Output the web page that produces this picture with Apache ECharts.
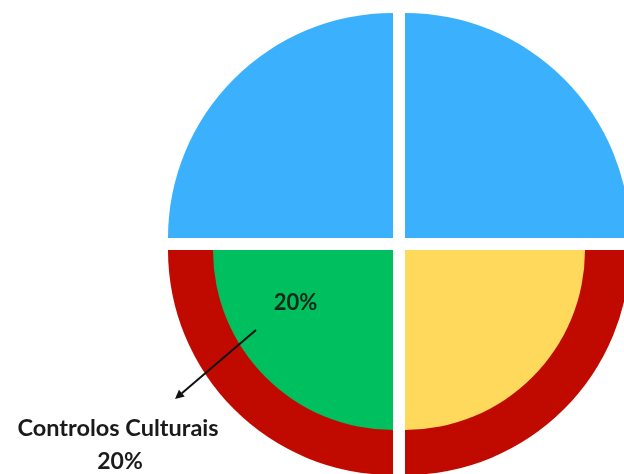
<!DOCTYPE html>
<html>
<head>
<meta charset="utf-8">
<script src="https://cdn.jsdelivr.net/npm/echarts@6/dist/echarts.min.js"></script>
<style>
html,body{margin:0;padding:0;background:#fff;}
#chart{width:624px;height:474px;}
</style>
</head>
<body>
<div id="chart"></div>
<script>
// Quadrants go clockwise from the top: top-right, bottom-right, bottom-left, top-left
const outerNames = ['Superior direito', 'Inferior direito', 'Inferior esquerdo', 'Superior esquerdo'];
const outerValues = [25, 25, 25, 25];
const outerColors = ['#3bb1fd', '#c00a00', '#c00a00', '#3bb1fd'];

const innerNames = ['', 'Outros controlos', 'Controlos Culturais', ''];
const innerValues = [25, 25, 25, 25];
const innerColors = ['rgba(0,0,0,0)', '#ffd95c', '#00bf5f', 'rgba(0,0,0,0)'];

const calloutName = 'Controlos Culturais';
const calloutPct = '20%';

const chart = echarts.init(document.getElementById('chart'), null, {renderer: 'canvas'});

function buildData(names, values, colors) {
  return values.map((v, i) => ({
    name: names[i],
    value: v,
    selected: true,
    itemStyle: {color: colors[i]}
  }));
}

const center = [399, 244];
const font = 'Lato, "Open Sans", sans-serif';

// arrow geometry (annotation)
const a0 = [256, 330], a1 = [175, 399];
const dx = a1[0] - a0[0], dy = a1[1] - a0[1];
const len = Math.sqrt(dx * dx + dy * dy);
const ux = dx / len, uy = dy / len, px = -uy, py = ux;
const hl = 9, hw = 4.5;
const bx = a1[0] - ux * hl, by = a1[1] - uy * hl;

chart.setOption({
  animation: false,
  backgroundColor: '#ffffff',
  series: [
    {
      type: 'pie',
      center: center,
      radius: [0, 225],
      startAngle: 90,
      clockwise: true,
      selectedMode: 'multiple',
      selectedOffset: 8.5,
      label: {show: false},
      labelLine: {show: false},
      emphasis: {disabled: true},
      silent: true,
      data: buildData(outerNames, outerValues, outerColors),
      z: 1
    },
    {
      type: 'pie',
      center: center,
      radius: [0, 180],
      startAngle: 90,
      clockwise: true,
      selectedMode: 'multiple',
      selectedOffset: 8.5,
      label: {show: false},
      labelLine: {show: false},
      emphasis: {disabled: true},
      silent: true,
      data: buildData(innerNames, innerValues, innerColors),
      z: 2
    }
  ],
  graphic: [
    {
      type: 'text',
      x: 295.5, y: 303,
      z: 10,
      style: {text: calloutPct, font: 'bold 22px ' + font, fill: '#0d2a18', align: 'center', verticalAlign: 'middle'}
    },
    {
      type: 'line',
      z: 10,
      shape: {x1: a0[0], y1: a0[1], x2: bx, y2: by},
      style: {stroke: '#111', lineWidth: 2}
    },
    {
      type: 'polygon',
      z: 10,
      shape: {points: [[bx + px * hw, by + py * hw], [a1[0], a1[1]], [bx - px * hw, by - py * hw]]},
      style: {fill: '#111'}
    },
    {
      type: 'text',
      x: 118, y: 428.5,
      z: 10,
      style: {text: calloutName, font: 'bold 23.5px ' + font, fill: '#1a1a1a', align: 'center', verticalAlign: 'middle'}
    },
    {
      type: 'text',
      x: 120, y: 462,
      z: 10,
      style: {text: calloutPct, font: 'bold 23px ' + font, fill: '#1a1a1a', align: 'center', verticalAlign: 'middle'}
    }
  ]
});
</script>
</body>
</html>
